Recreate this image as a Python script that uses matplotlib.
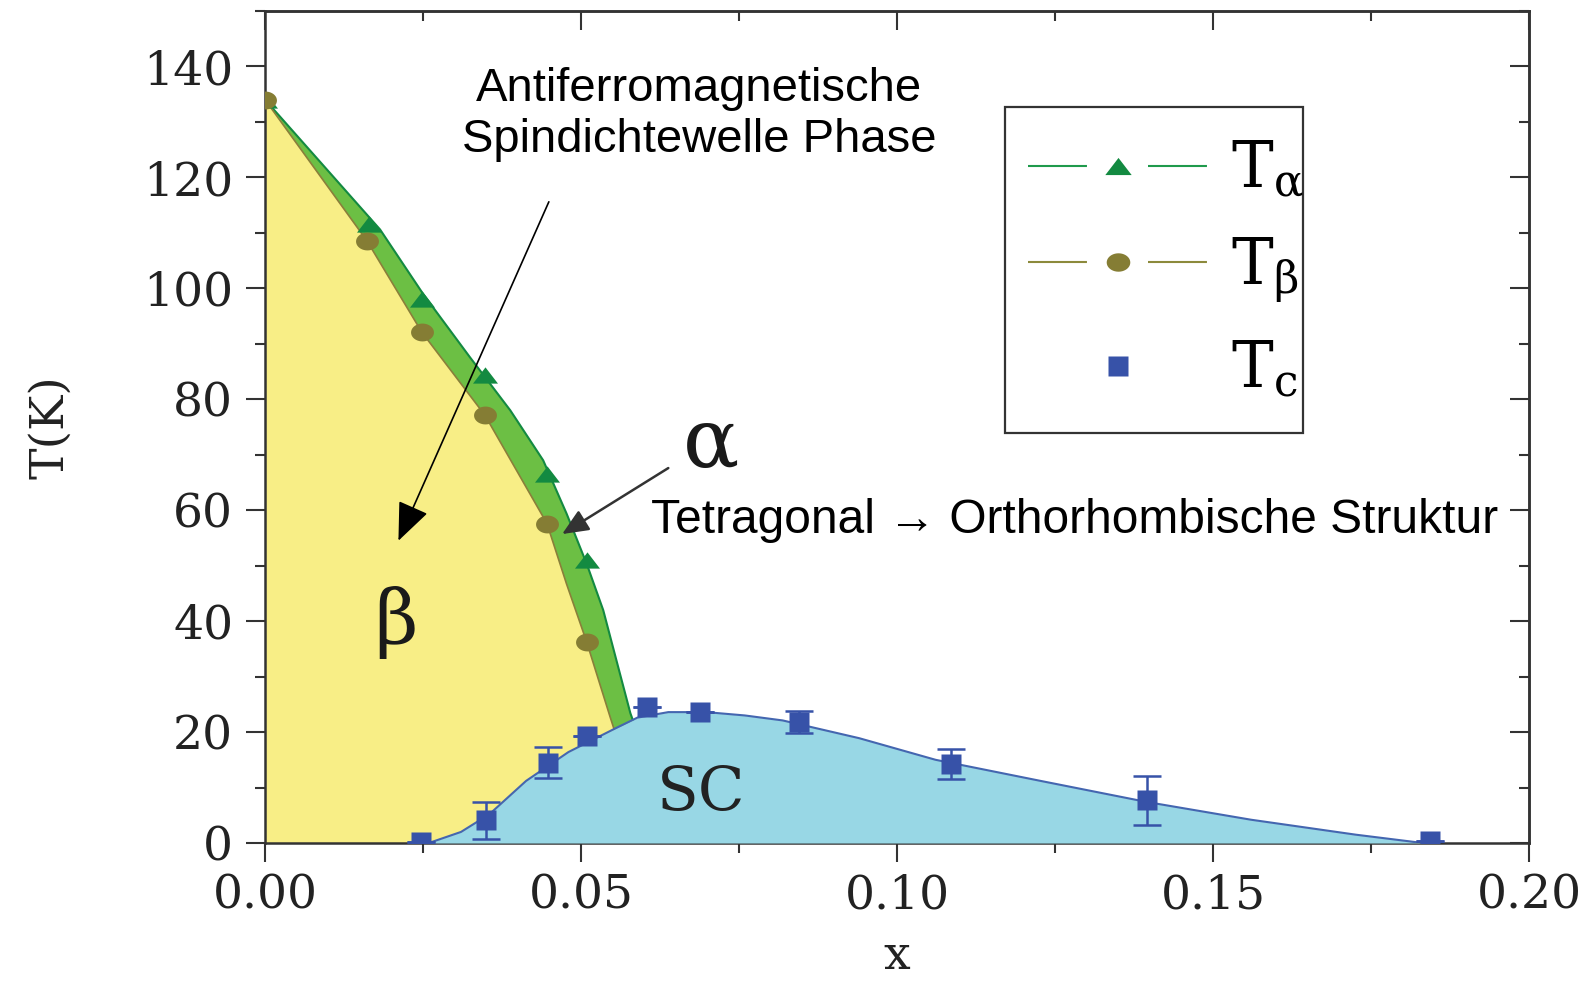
import numpy as np
import matplotlib
matplotlib.use('Agg')
import matplotlib.pyplot as plt
from matplotlib.lines import Line2D
from matplotlib.patches import Rectangle
from matplotlib.ticker import MultipleLocator

plt.rcParams['mathtext.fontset'] = 'dejavuserif'

# messpunkte
x_alpha = [0.0, 0.0164, 0.0248, 0.0348, 0.0446, 0.0509]
t_alpha = [134, 111.6, 98.1, 84.3, 66.6, 51.0]
x_beta = [0.0, 0.0161, 0.0248, 0.0348, 0.0446, 0.0509]
t_beta = [134, 108.6, 92.1, 77.1, 57.6, 36.2]
x_c = [0.0247, 0.0350, 0.0447, 0.0510, 0.0604, 0.0688, 0.0845, 0.1085, 0.1395, 0.1843]
t_c = [0.2, 4.1, 14.5, 19.3, 24.5, 23.6, 21.8, 14.3, 7.7, 0.3]
err_c = [0, 3.3, 2.8, 0, 0, 0, 2.0, 2.7, 4.4, 0]

# phasengrenzen
grenze_alpha_x = [0.0, 0.0182, 0.0250, 0.0324, 0.0388, 0.0440, 0.0477, 0.0509, 0.0535, 0.0556, 0.0578, 0.0595]
grenze_alpha_t = [134, 110.6, 99.0, 87.6, 78.0, 69.0, 59.4, 50.3, 42.0, 32.9, 23.4, 18.0]
grenze_beta_x = [0.0, 0.0161, 0.0248, 0.0348, 0.0446, 0.0477, 0.0509, 0.0546, 0.0565]
grenze_beta_t = [134, 108.6, 92.1, 77.1, 57.6, 46.7, 36.2, 22.7, 16.0]
grenze_sc_x = [0.0259, 0.031, 0.0355, 0.0413, 0.048, 0.0553, 0.0589, 0.0638, 0.0698, 0.0759, 0.0819,
               0.094, 0.1061, 0.1227, 0.1395, 0.156, 0.1726, 0.1832]
grenze_sc_t = [0.0, 2.0, 5.2, 11.2, 16.4, 20.6, 22.6, 23.6, 23.6, 23.0, 22.1,
               18.9, 15.0, 11.2, 7.4, 4.2, 1.5, 0.0]

x_ticks = [0.00, 0.05, 0.10, 0.15, 0.20]
x_ticklabels = ['0.00', '0.05', '0.10', '0.15', '0.20']
y_ticks = [0, 20, 40, 60, 80, 100, 120, 140]

# farben
gelb = '#f8ee86'
gruen_band = '#6cbf44'
gruen_dunkel = '#138a41'
oliv = '#857d34'
hellblau = '#98d7e5'
blau = '#3752a8'
achse = '#333333'

# marker formen
tri = [(-1, -0.65), (1, -0.65), (0, 0.65), (-1, -0.65)]
t = np.linspace(0, 2 * np.pi, 41)
ellipse = list(zip(np.cos(t), 0.78 * np.sin(t)))

fig = plt.figure(figsize=(15.93, 9.83), dpi=100)
ax = fig.add_axes([0.1664, 0.1424, 0.7935, 0.8464])

# flaechen
ax.fill_between(grenze_beta_x, 0, grenze_beta_t, color=gelb, lw=0, zorder=1)
band_x = list(grenze_alpha_x) + list(grenze_beta_x[::-1])
band_t = list(grenze_alpha_t) + list(grenze_beta_t[::-1])
ax.fill(band_x, band_t, color=gruen_band, lw=0, zorder=1.5)
ax.plot(grenze_alpha_x, grenze_alpha_t, color=gruen_dunkel, lw=1.5, zorder=2)
ax.plot(grenze_beta_x, grenze_beta_t, color='#8a7f3a', lw=1.2, zorder=2)
ax.fill_between(grenze_sc_x, 0, grenze_sc_t, color=hellblau, lw=0, zorder=3)
ax.plot(grenze_sc_x, grenze_sc_t, color='#4466b0', lw=1.5, zorder=3.5)

# punkte
ax.plot(x_alpha, t_alpha, ls='none', marker=tri, ms=18, mfc=gruen_dunkel, mec='none', zorder=5)
ax.plot(x_beta, t_beta, ls='none', marker=ellipse, ms=16.5, mfc=oliv, mec='none', zorder=5)
ax.errorbar(x_c, t_c, yerr=err_c, fmt='s', ms=14, mfc=blau, mec='none', ecolor=blau,
            elinewidth=1.8, capsize=10, capthick=1.8, zorder=5, clip_on=True)

ax.set_xlim(0, 0.20)
ax.set_ylim(0, 150)

ax.set_xticks(x_ticks)
ax.set_xticklabels(x_ticklabels)
ax.set_yticks(y_ticks)
ax.xaxis.set_minor_locator(MultipleLocator(0.025))
ax.yaxis.set_minor_locator(MultipleLocator(10))
ax.tick_params(which='both', direction='out', color=achse, width=1.5, top=False, right=False)
ax.tick_params(which='major', length=14)
ax.tick_params(which='minor', length=7)
ax.tick_params(axis='x', labelsize=34, pad=8, labelcolor='#222222')
ax.tick_params(axis='y', labelsize=34, pad=9, labelcolor='#222222')
for lab in ax.get_xticklabels() + ax.get_yticklabels():
    lab.set_family('DejaVu Serif')
for sp in ax.spines.values():
    sp.set_color(achse)
    sp.set_linewidth(1.8)

oben = ax.secondary_xaxis('top')
oben.set_xticks(x_ticks)
oben.xaxis.set_minor_locator(MultipleLocator(0.025))
oben.tick_params(which='both', direction='in', color=achse, width=1.5, labeltop=False)
oben.tick_params(which='major', length=14)
oben.tick_params(which='minor', length=7)
oben.spines['top'].set_color(achse)
oben.spines['top'].set_linewidth(1.8)
rechts = ax.secondary_yaxis('right')
rechts.set_yticks(y_ticks)
rechts.yaxis.set_minor_locator(MultipleLocator(10))
rechts.tick_params(which='both', direction='in', color=achse, width=1.5, labelright=False)
rechts.tick_params(which='major', length=14)
rechts.tick_params(which='minor', length=7)
rechts.spines['right'].set_color(achse)
rechts.spines['right'].set_linewidth(1.8)

ax.set_xlabel('x', family='DejaVu Serif', fontsize=34, labelpad=11, color='#222222')
ax.set_ylabel('T(K)', family='DejaVu Serif', fontsize=34, labelpad=50, color='#222222')

# beschriftungen
ax.text(0.0207, 39.8, '\u03b2', family='DejaVu Serif', fontsize=54, ha='center', va='center',
        color='#1a1a1a', zorder=6)
ax.text(0.0706, 71.8, '\u03b1', family='DejaVu Serif', fontsize=60, ha='center', va='center',
        color='#1a1a1a', zorder=6)
ax.text(0.069, 9.1, 'SC', family='DejaVu Serif', fontsize=44, ha='center', va='center',
        color='#222222', zorder=6)
ax.text(0.0687, 131.3, 'Antiferromagnetische\nSpindichtewelle Phase',
        family=['Liberation Sans', 'DejaVu Sans'], fontsize=34, ha='center', va='center',
        linespacing=1.2, zorder=6)
ax.text(0.0611, 58.2, 'Tetragonal \u2192 Orthorhombische Struktur',
        family=['Liberation Sans', 'DejaVu Sans'], fontsize=34.5, ha='left', va='center', zorder=6)

ax.annotate('', xy=(0.0211, 54.5), xytext=(0.0449, 115.6),
            arrowprops=dict(arrowstyle='-|>,head_length=1.2,head_width=0.5', color='black',
                            lw=1.2, mutation_scale=20, shrinkA=0, shrinkB=0), zorder=7)
ax.annotate('', xy=(0.0470, 55.7), xytext=(0.0638, 67.6),
            arrowprops=dict(arrowstyle='-|>,head_length=0.8,head_width=0.35', color='#333333',
                            lw=1.8, mutation_scale=20, shrinkA=0, shrinkB=0), zorder=7)

# legende: rahmen extra, damit er genau passt
ax.add_patch(Rectangle((0.585, 0.493), 0.236, 0.392, transform=ax.transAxes,
                       facecolor='white', edgecolor=achse, lw=1.6, zorder=7))
h_a = Line2D([], [], color='#1f9a4c', lw=1.5, ls=(0, (28.3, 29.3)), marker=tri, ms=19,
             mfc=gruen_dunkel, mec='none')
h_b = Line2D([], [], color='#8c8a3c', lw=1.5, ls=(0, (28.3, 29.3)), marker=ellipse, ms=17,
             mfc=oliv, mec='none')
h_c = Line2D([], [], ls='none', marker='s', ms=14, mfc=blau, mec='none')
labels = [r'$\mathrm{T}_{\mathrm{\alpha}}$', r'$\mathrm{T}_{\mathrm{\beta}}$', r'$\mathrm{T}_{\mathrm{c}}$']
leg = ax.legend([h_a, h_b, h_c], labels,
                loc='upper left', bbox_to_anchor=(0.6036, 0.8468), fontsize=45, numpoints=1,
                handlelength=2.87, handletextpad=0.38, borderpad=0, labelspacing=0.55,
                frameon=False, borderaxespad=0)
leg.set_zorder(8)

fig.savefig('out.png', dpi=100)
